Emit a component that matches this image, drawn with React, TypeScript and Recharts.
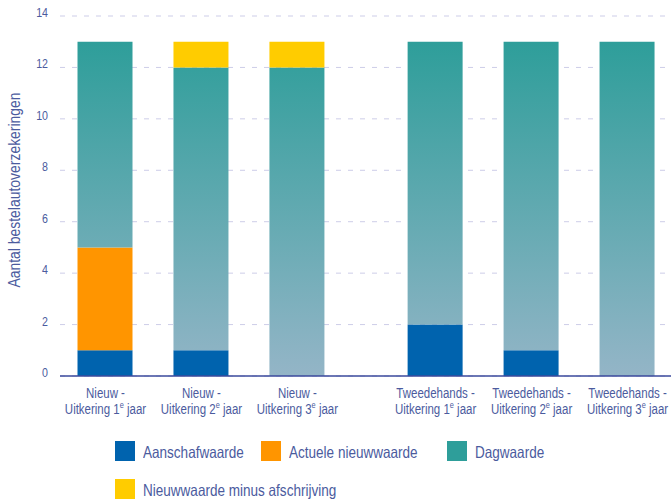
import React from 'react';
import { BarChart, Bar, XAxis, YAxis, CartesianGrid, Legend, Label } from 'recharts';

// categories (two text lines per tick, with the year as ordinal "1e", "2e", ...)
const groups = ['Nieuw -', 'Nieuw -', 'Nieuw -', 'Tweedehands -', 'Tweedehands -', 'Tweedehands -'];
const jaren = ['1', '2', '3', '1', '2', '3'];

// series values
const aanschafwaarde = [1, 1, 0, 2, 1, 0];
const actueleNieuwwaarde = [4, 0, 0, 0, 0, 0];
const dagwaarde = [8, 11, 12, 11, 12, 13];
const nieuwwaardeMinusAfschrijving = [0, 1, 1, 0, 0, 0];

const yTicks = [0, 2, 4, 6, 8, 10, 12, 14];

// x slot of each bar: the "Tweedehands" group sits a bit further away
const slots = [0, 1, 2, 3.44, 4.44, 5.44];

// no condensed face installed, so squeeze Liberation Sans horizontally
const FONT = "'Liberation Sans', Arial, sans-serif";
const SQUEEZE = 0.82;
const TEXT = '#4b5b9e';

const series = [
  { key: 'aanschafwaarde', name: 'Aanschafwaarde', color: '#0063ae', fill: '#0063ae' },
  { key: 'actueleNieuwwaarde', name: 'Actuele nieuwwaarde', color: '#ff9500', fill: '#ff9500' },
  { key: 'dagwaarde', name: 'Dagwaarde', color: '#2e9e9a', fill: 'url(#dagwaardeGradient)' },
  { key: 'nieuwwaardeMinusAfschrijving', name: 'Nieuwwaarde minus afschrijving', color: '#ffcc00', fill: '#ffcc00' },
];

const data = slots.map((slot, i) => ({
  slot,
  aanschafwaarde: aanschafwaarde[i],
  actueleNieuwwaarde: actueleNieuwwaarde[i],
  dagwaarde: dagwaarde[i],
  nieuwwaardeMinusAfschrijving: nieuwwaardeMinusAfschrijving[i],
}));

// eslint-disable-next-line @typescript-eslint/no-explicit-any
const XTick = (props: any) => {
  const { x, y, index } = props;
  return (
    <g fill={TEXT} fontSize={14} fontFamily={FONT}>
      <text transform={`translate(${x},${y + 22}) scale(${SQUEEZE},1)`} textAnchor="middle">
        {groups[index]}
      </text>
      <text transform={`translate(${x},${y + 38}) scale(${SQUEEZE},1)`} textAnchor="middle">
        Uitkering {jaren[index]}
        <tspan fontSize={9} dy={-6}>e</tspan>
        <tspan dy={6}> jaar</tspan>
      </text>
    </g>
  );
};

// eslint-disable-next-line @typescript-eslint/no-explicit-any
const YTick = (props: any) => {
  const { x, y, payload } = props;
  return (
    <text
      transform={`translate(${x},${y + 1}) scale(${SQUEEZE},1)`}
      textAnchor="end"
      fill={TEXT}
      fontSize={13}
      fontFamily={FONT}
    >
      {payload.value}
    </text>
  );
};

const legendCols = [115, 261, 447, 115];
const legendRows = [441, 441, 441, 479];

const LegendBox = () => (
  <div style={{ position: 'relative', height: 0 }}>
    {series.map((s, i) => (
      <div
        key={s.key}
        style={{
          position: 'absolute',
          left: legendCols[i],
          top: legendRows[i],
          display: 'flex',
          alignItems: 'center',
          whiteSpace: 'nowrap',
        }}
      >
        <span style={{ width: 20, height: 20, background: s.color, display: 'inline-block' }} />
        <span
          style={{
            marginLeft: 8,
            color: TEXT,
            fontSize: 16.5,
            fontFamily: FONT,
            lineHeight: '20px',
            display: 'inline-block',
            position: 'relative',
            top: 1,
            transform: `scaleX(${SQUEEZE})`,
            transformOrigin: 'left center',
          }}
        >
          {s.name}
        </span>
      </div>
    ))}
  </div>
);

export default function App() {
  return (
    <div style={{ position: 'absolute', left: 0, top: 0, width: 671, height: 502, background: '#fff' }}>
      <svg width={0} height={0} style={{ position: 'absolute' }}>
        <defs>
          <linearGradient id="dagwaardeGradient" gradientUnits="userSpaceOnUse" x1={0} y1={42} x2={0} y2={376}>
            <stop offset="0%" stopColor="#2e9e9a" />
            <stop offset="100%" stopColor="#94b5c7" />
          </linearGradient>
        </defs>
      </svg>
      <BarChart width={671} height={502} data={data} margin={{ top: 16, right: 0, bottom: 96, left: 0 }}>
        <CartesianGrid vertical={false} stroke="#cdcde8" strokeDasharray="5 7" />
        <XAxis
          dataKey="slot"
          type="number"
          domain={[-0.474, 5.893]}
          ticks={slots}
          interval={0}
          height={30}
          tickLine={false}
          tickSize={0}
          tickMargin={0}
          tick={<XTick />}
          axisLine={{ stroke: '#3b4a9c', strokeWidth: 1.5 }}
        />
        <YAxis
          width={60}
          domain={[0, 14]}
          ticks={yTicks}
          interval={0}
          axisLine={false}
          tickLine={false}
          tickSize={12}
          tickMargin={0}
          tick={<YTick />}
        >
          <Label
            content={() => (
              <text
                transform={`translate(20,190) rotate(-90) scale(${SQUEEZE},1)`}
                textAnchor="middle"
                fill={TEXT}
                fontSize={17}
                fontFamily={FONT}
              >
                Aantal bestelautoverzekeringen
              </text>
            )}
          />
        </YAxis>
        <Legend content={<LegendBox />} wrapperStyle={{ left: 0, top: 0, width: 671 }} />
        {series.map((s) => (
          <Bar key={s.key} dataKey={s.key} name={s.name} stackId="a" fill={s.fill} barSize={55} isAnimationActive={false} />
        ))}
      </BarChart>
    </div>
  );
}
